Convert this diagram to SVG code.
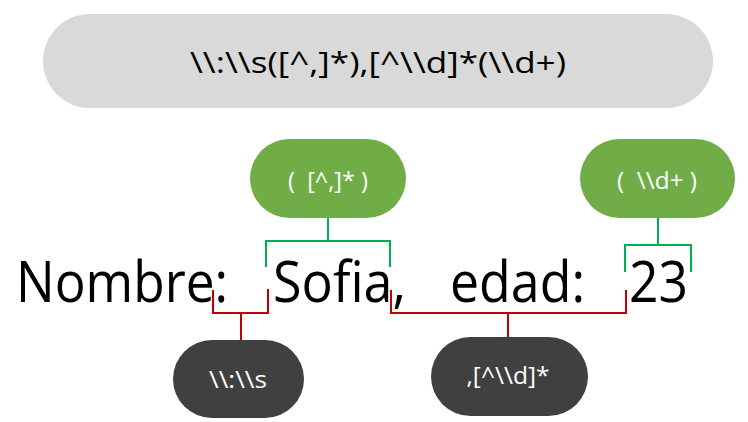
<svg xmlns="http://www.w3.org/2000/svg" width="748" height="422" viewBox="0 0 748 422">
<style>
text{font-family:"Open Sans","Noto Sans","Liberation Sans",sans-serif;text-anchor:middle;white-space:pre}
.big{font-size:56px;fill:#000;text-anchor:start}
.lbl{font-size:23px;fill:#fff}
.g{stroke:#00B050;stroke-width:2;fill:none}
.r{stroke:#C00000;stroke-width:2;fill:none}
.gp{fill:#70AD47}
.dp{fill:#404040}
</style>
<rect width="748" height="422" fill="#fff"/>
<g id="regex">
<rect x="43" y="14" width="670" height="94" rx="47" fill="#D9D9D9"/>
<text x="378" y="73" font-size="29" fill="#000" textLength="376" lengthAdjust="spacingAndGlyphs">\\:\\s([^,]*),[^\\d]*(\\d+)</text>
</g>
<g id="sentence">
<text class="big" x="16" y="302" textLength="212" lengthAdjust="spacingAndGlyphs">Nombre:</text>
<text class="big" x="273" y="302" textLength="133" lengthAdjust="spacingAndGlyphs">Sofia,</text>
<text class="big" x="450" y="302" textLength="135" lengthAdjust="spacingAndGlyphs">edad:</text>
<text class="big" x="629" y="302" textLength="59" lengthAdjust="spacingAndGlyphs">23</text>
</g>
<g id="connectors">
<path class="g" d="M266 267V241H390V267M328 241V218"/>
<path class="g" d="M625 272V245H691V272M658 245V218"/>
<path class="r" d="M213 290V313H268V289M241 313V340"/>
<path class="r" d="M391 290V313H626V290M508 313V337"/>
</g>
<g id="group1">
<rect class="gp" x="250" y="139" width="156" height="79" rx="39.5"/>
<text class="lbl" x="328" y="189" textLength="80" lengthAdjust="spacingAndGlyphs">(  [^,]* )</text>
</g>
<g id="group2">
<rect class="gp" x="580" y="139" width="155" height="79" rx="39.5"/>
<text class="lbl" x="657" y="189" textLength="80" lengthAdjust="spacingAndGlyphs">(  \\d+ )</text>
</g>
<g id="sep1">
<rect class="dp" x="173" y="340" width="131" height="78" rx="39"/>
<text class="lbl" x="238" y="388" font-size="25" textLength="58" lengthAdjust="spacingAndGlyphs">\\:\\s</text>
</g>
<g id="sep2">
<rect class="dp" x="431" y="337" width="157" height="79" rx="39.5"/>
<text class="lbl" x="508" y="384" font-size="25" textLength="83" lengthAdjust="spacingAndGlyphs">,[^\\d]*</text>
</g>
</svg>
